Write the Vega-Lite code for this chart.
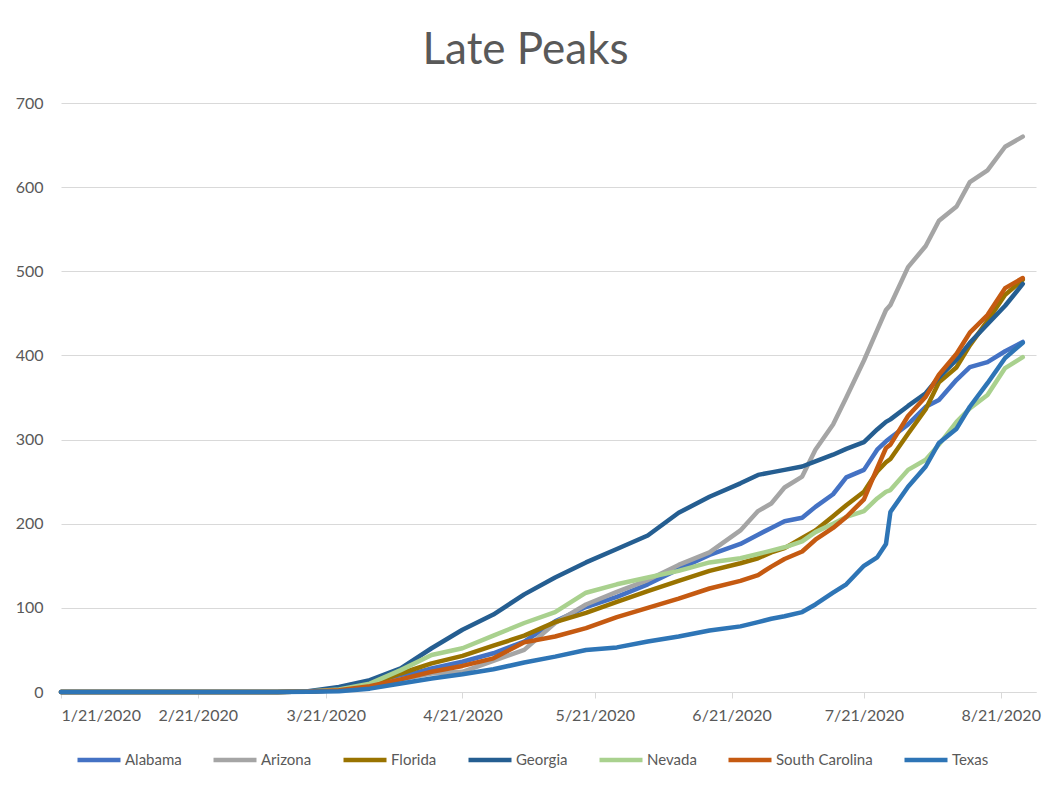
{
  "$schema": "https://vega.github.io/schema/vega-lite/v6.json",
  "width": 975,
  "height": 589,
  "autosize": {"type": "none"},
  "padding": {"left": 61, "top": 103, "right": 13, "bottom": 98},
  "background": "white",
  "title": {
    "text": "Late Peaks",
    "font": "Lato",
    "fontSize": 44,
    "fontWeight": "normal",
    "color": "#595959",
    "anchor": "middle",
    "dx": -23,
    "offset": 22
  },
  "data": {
    "values": [
      {"date": "2020-01-21T00:00:00", "Alabama": 0, "Arizona": 0, "Florida": 0, "Georgia": 0, "Nevada": 0, "South Carolina": 0, "Texas": 0},
      {"date": "2020-03-10T00:00:00", "Alabama": 0, "Arizona": 0, "Florida": 0, "Georgia": 0, "Nevada": 0, "South Carolina": 0, "Texas": 0},
      {"date": "2020-03-17T00:00:00", "Alabama": 0.5, "Arizona": 0.5, "Florida": 0.5, "Georgia": 1, "Nevada": 0.5, "South Carolina": 0.5, "Texas": 0.3},
      {"date": "2020-03-24T00:00:00", "Alabama": 2, "Arizona": 2, "Florida": 3, "Georgia": 6, "Nevada": 3, "South Carolina": 2, "Texas": 1},
      {"date": "2020-03-31T00:00:00", "Alabama": 7, "Arizona": 6, "Florida": 9, "Georgia": 14, "Nevada": 10, "South Carolina": 7, "Texas": 4},
      {"date": "2020-04-07T00:00:00", "Alabama": 18, "Arizona": 15, "Florida": 22, "Georgia": 28, "Nevada": 26, "South Carolina": 15, "Texas": 10},
      {"date": "2020-04-14T00:00:00", "Alabama": 28, "Arizona": 22, "Florida": 34, "Georgia": 52, "Nevada": 44, "South Carolina": 24, "Texas": 16},
      {"date": "2020-04-21T00:00:00", "Alabama": 36, "Arizona": 24, "Florida": 43, "Georgia": 74, "Nevada": 52, "South Carolina": 31, "Texas": 21},
      {"date": "2020-04-28T00:00:00", "Alabama": 46, "Arizona": 37, "Florida": 55, "Georgia": 92, "Nevada": 67, "South Carolina": 40, "Texas": 27},
      {"date": "2020-05-05T00:00:00", "Alabama": 60, "Arizona": 50, "Florida": 67, "Georgia": 116, "Nevada": 82, "South Carolina": 59, "Texas": 35},
      {"date": "2020-05-12T00:00:00", "Alabama": 84, "Arizona": 82, "Florida": 83, "Georgia": 136, "Nevada": 95, "South Carolina": 66, "Texas": 42},
      {"date": "2020-05-19T00:00:00", "Alabama": 101, "Arizona": 104, "Florida": 94, "Georgia": 154, "Nevada": 118, "South Carolina": 76, "Texas": 50},
      {"date": "2020-05-26T00:00:00", "Alabama": 113, "Arizona": 119, "Florida": 107, "Georgia": 170, "Nevada": 128, "South Carolina": 89, "Texas": 53},
      {"date": "2020-06-02T00:00:00", "Alabama": 128, "Arizona": 133, "Florida": 120, "Georgia": 186, "Nevada": 136, "South Carolina": 100, "Texas": 60},
      {"date": "2020-06-09T00:00:00", "Alabama": 146, "Arizona": 151, "Florida": 132, "Georgia": 213, "Nevada": 144, "South Carolina": 111, "Texas": 66},
      {"date": "2020-06-16T00:00:00", "Alabama": 163, "Arizona": 166, "Florida": 144, "Georgia": 232, "Nevada": 154, "South Carolina": 123, "Texas": 73},
      {"date": "2020-06-23T00:00:00", "Alabama": 176, "Arizona": 192, "Florida": 153, "Georgia": 248, "Nevada": 159, "South Carolina": 132, "Texas": 78},
      {"date": "2020-06-27T00:00:00", "Alabama": 187, "Arizona": 215, "Florida": 159, "Georgia": 258, "Nevada": 164, "South Carolina": 139, "Texas": 83},
      {"date": "2020-06-30T00:00:00", "Alabama": 195, "Arizona": 224, "Florida": 166, "Georgia": 261, "Nevada": 168, "South Carolina": 149, "Texas": 87},
      {"date": "2020-07-03T00:00:00", "Alabama": 203, "Arizona": 243, "Florida": 171, "Georgia": 264, "Nevada": 172, "South Carolina": 158, "Texas": 90},
      {"date": "2020-07-07T00:00:00", "Alabama": 207, "Arizona": 256, "Florida": 183, "Georgia": 268, "Nevada": 179, "South Carolina": 167, "Texas": 95},
      {"date": "2020-07-10T00:00:00", "Alabama": 220, "Arizona": 288, "Florida": 192, "Georgia": 274, "Nevada": 190, "South Carolina": 181, "Texas": 104},
      {"date": "2020-07-14T00:00:00", "Alabama": 235, "Arizona": 318, "Florida": 209, "Georgia": 282, "Nevada": 200, "South Carolina": 195, "Texas": 118},
      {"date": "2020-07-17T00:00:00", "Alabama": 255, "Arizona": 350, "Florida": 222, "Georgia": 289, "Nevada": 208, "South Carolina": 208, "Texas": 128},
      {"date": "2020-07-21T00:00:00", "Alabama": 264, "Arizona": 394, "Florida": 238, "Georgia": 297, "Nevada": 215, "South Carolina": 229, "Texas": 150},
      {"date": "2020-07-24T00:00:00", "Alabama": 288, "Arizona": 430, "Florida": 262, "Georgia": 312, "Nevada": 230, "South Carolina": 266, "Texas": 160},
      {"date": "2020-07-26T00:00:00", "Alabama": 298, "Arizona": 454, "Florida": 273, "Georgia": 321, "Nevada": 238, "South Carolina": 290, "Texas": 176},
      {"date": "2020-07-27T00:00:00", "Alabama": 302, "Arizona": 460, "Florida": 277, "Georgia": 324, "Nevada": 240, "South Carolina": 294, "Texas": 214},
      {"date": "2020-07-31T00:00:00", "Alabama": 318, "Arizona": 505, "Florida": 307, "Georgia": 340, "Nevada": 264, "South Carolina": 328, "Texas": 244},
      {"date": "2020-08-04T00:00:00", "Alabama": 339, "Arizona": 530, "Florida": 336, "Georgia": 355, "Nevada": 276, "South Carolina": 351, "Texas": 268},
      {"date": "2020-08-07T00:00:00", "Alabama": 347, "Arizona": 560, "Florida": 368, "Georgia": 374, "Nevada": 294, "South Carolina": 377, "Texas": 296},
      {"date": "2020-08-11T00:00:00", "Alabama": 371, "Arizona": 577, "Florida": 386, "Georgia": 395, "Nevada": 321, "South Carolina": 402, "Texas": 313},
      {"date": "2020-08-14T00:00:00", "Alabama": 386, "Arizona": 606, "Florida": 412, "Georgia": 415, "Nevada": 337, "South Carolina": 427, "Texas": 339},
      {"date": "2020-08-18T00:00:00", "Alabama": 392, "Arizona": 620, "Florida": 441, "Georgia": 437, "Nevada": 353, "South Carolina": 448, "Texas": 367},
      {"date": "2020-08-22T00:00:00", "Alabama": 405, "Arizona": 648, "Florida": 472, "Georgia": 459, "Nevada": 385, "South Carolina": 480, "Texas": 397},
      {"date": "2020-08-26T00:00:00", "Alabama": 416, "Arizona": 660, "Florida": 490, "Georgia": 485, "Nevada": 398, "South Carolina": 492, "Texas": 415}
    ]
  },
  "transform": [
    {"fold": ["Alabama", "Arizona", "Florida", "Georgia", "Nevada", "South Carolina", "Texas"], "as": ["state", "value"]}
  ],
  "mark": {"type": "line", "strokeWidth": 4.5, "strokeJoin": "round", "strokeCap": "round"},
  "encoding": {
    "x": {
      "field": "date",
      "type": "temporal",
      "title": null,
      "scale": {"domain": [{"year": 2020, "month": 1, "date": 21}, {"year": 2020, "month": 8, "date": 29}]},
      "axis": {
        "values": [
          {"year": 2020, "month": 1, "date": 21},
          {"year": 2020, "month": 2, "date": 21},
          {"year": 2020, "month": 3, "date": 21},
          {"year": 2020, "month": 4, "date": 21},
          {"year": 2020, "month": 5, "date": 21},
          {"year": 2020, "month": 6, "date": 21},
          {"year": 2020, "month": 7, "date": 21},
          {"year": 2020, "month": 8, "date": 21}
        ],
        "format": "%-m/%-d/%Y",
        "grid": false,
        "domainColor": "#d9d9d9",
        "tickColor": "#d9d9d9",
        "tickSize": 6,
        "labelPadding": 9,
        "labelAngle": 0
      }
    },
    "y": {
      "field": "value",
      "type": "quantitative",
      "title": null,
      "scale": {"domain": [0, 700]},
      "axis": {
        "values": [0, 100, 200, 300, 400, 500, 600, 700],
        "domain": false,
        "ticks": false,
        "gridColor": "#d9d9d9",
        "labelPadding": 18
      }
    },
    "color": {
      "field": "state",
      "type": "nominal",
      "title": null,
      "scale": {
        "domain": ["Alabama", "Arizona", "Florida", "Georgia", "Nevada", "South Carolina", "Texas"],
        "range": ["#4472C4", "#A5A5A5", "#997300", "#255E91", "#A9D18E", "#C55A11", "#2E75B6"]
      },
      "legend": {
        "orient": "none",
        "direction": "horizontal",
        "legendX": 14,
        "legendY": 633,
        "symbolType": "stroke",
        "symbolSize": 1849,
        "symbolStrokeWidth": 4.5,
        "labelOffset": 2,
        "columnPadding": 22
      }
    }
  },
  "config": {
    "view": {"stroke": null},
    "axis": {"labelFont": "Lato", "labelFontSize": 16, "labelColor": "#595959"},
    "legend": {"labelFont": "Lato", "labelFontSize": 15, "labelColor": "#595959"}
  }
}
